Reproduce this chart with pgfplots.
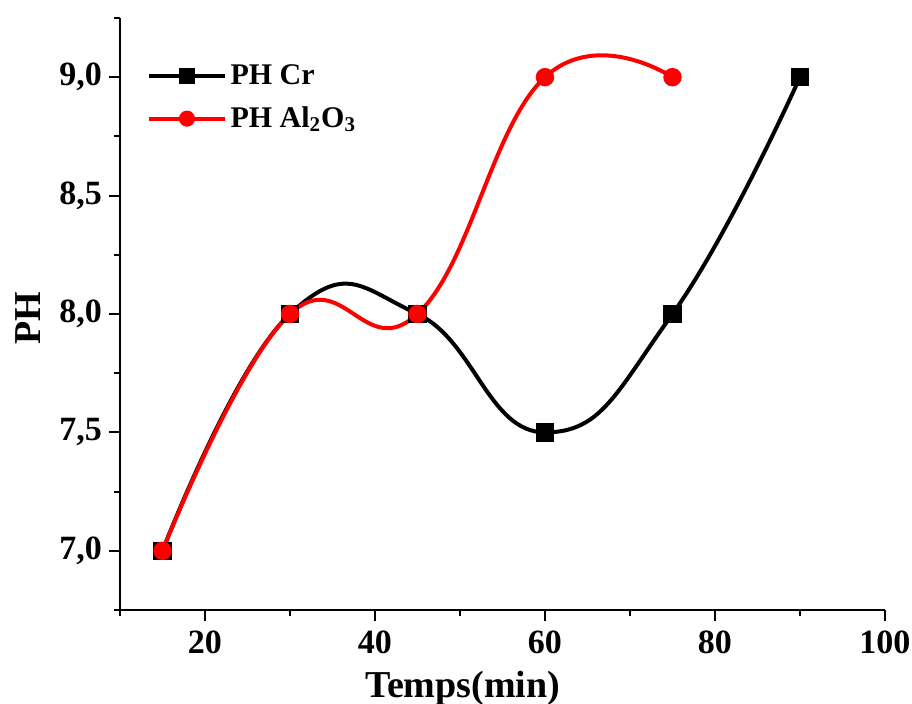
\documentclass[border=0pt]{standalone}
\usepackage{pgfplots}
\pgfplotsset{compat=1.18}
\usepackage{fontspec}
\setmainfont{Liberation Serif}
\begin{document}
\begin{tikzpicture}
\begin{axis}[
    name=ax,
    scale only axis,
    width=382.5pt,
    height=296pt,
    xmin=10, xmax=100,
    ymin=6.75, ymax=9.25,
    axis x line=bottom,
    axis y line=left,
    axis line style={-, line width=1.1pt},
    xtick={20,40,60,80,100},
    minor xtick={10,30,50,70,90},
    ytick={7,7.5,8,8.5,9},
    minor ytick={6.75,7.25,7.75,8.25,8.75,9.25},
    tick align=outside,
    major tick length=5.5pt,
    minor tick length=3pt,
    every tick/.style={line width=1pt, black},
    /pgf/number format/assume math mode=true,
    yticklabel style={/pgf/number format/fixed, /pgf/number format/fixed zerofill,
        /pgf/number format/precision=1, /pgf/number format/use comma},
    ticklabel style={font=\fontsize{17}{19}\selectfont\bfseries},
    xticklabel style={yshift=-1.5pt},
    xlabel={Temps(min)},
    ylabel={PH},
    xlabel style={font=\fontsize{19}{22}\selectfont\bfseries,
        at={(axis description cs:0.448,-0.147)}, anchor=base},
    ylabel style={font=\fontsize{19}{22}\selectfont\bfseries,
        at={(axis description cs:-0.12,0.493)}, anchor=center},
    legend style={draw=none, fill=none, at={(axis description cs:0.0275,0.935)}, anchor=north west,
        font=\fontsize{15}{17}\selectfont\bfseries, row sep=5.5pt},
    legend cell align=left,
    legend image code/.code={\draw[mark repeat=2,mark phase=2,#1,mark size=3pt] plot coordinates {(0cm,0cm)(0.66cm,0cm)(1.32cm,0cm)};},
]
\addplot[black, line width=2pt, smooth, tension=0.8, mark=square*, mark size=3.6pt,
    mark options={solid}] coordinates {
    (15,7.0) (30,8.0) (45,8.0) (60,7.5) (75,8.0) (90,9.0)
};
\addlegendentry{PH Cr}
\addplot[red, line width=2pt, smooth, tension=0.75, mark=*, mark size=3.6pt,
    mark options={solid}] coordinates {
    (15,7.0) (30,8.0) (45,8.0) (60,9.0) (75,9.0)
};
\addlegendentry{PH Al\textsubscript{2}O\textsubscript{3}}
\end{axis}
\pgfresetboundingbox
\path[use as bounding box] ([shift={(-60pt,-47pt)}]ax.south west) rectangle +(456pt,352pt);
\end{tikzpicture}
\end{document}
